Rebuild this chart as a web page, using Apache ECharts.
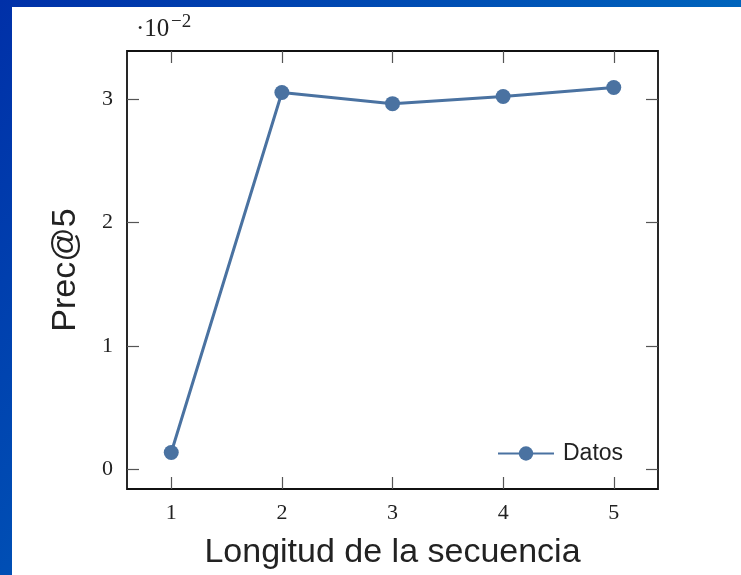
<!DOCTYPE html>
<html>
<head>
<meta charset="utf-8">
<script src="https://cdn.jsdelivr.net/npm/echarts@6/dist/echarts.min.js"></script>
<style>
html,body{margin:0;padding:0;}
#chart{width:741px;height:575px;}
</style>
</head>
<body>
<div id="chart"></div>
<script>
// Data
var seqLengths = [1, 2, 3, 4, 5];
var precValues = [0.139, 3.051, 2.961, 3.019, 3.092];
var xTicks = [1, 2, 3, 4, 5];
var yTicks = [0, 1, 2, 3];
var seriesName = 'Datos';
var xName = 'Longitud de la secuencia';
var yName = 'Prec@5';
var scaleBase = '·10';
var scaleExp = '−2';

var lineColor = '#4a72a1';
var tickFont = 'Liberation Serif';
var sansFont = 'Liberation Sans';

var chart = echarts.init(document.getElementById('chart'));

var pairs = seqLengths.map(function (x, i) { return [x, precValues[i]]; });

function tickStyle(vals) {
  return { show: true, inside: true, length: 12, customValues: vals, lineStyle: { color: '#555', width: 1.2 } };
}
var noLine = { show: false, onZero: false };

var option = {
  animation: false,
  backgroundColor: {
    type: 'linear', x: 0, y: 0, x2: 1, y2: 1,
    colorStops: [
      { offset: 0, color: '#0030a8' },
      { offset: 0.5, color: '#0058b8' },
      { offset: 1, color: '#0088c8' }
    ]
  },
  graphic: [
    { type: 'rect', z: -10, shape: { x: 12, y: 7, width: 729, height: 568 }, style: { fill: '#ffffff' } },
    { type: 'text', left: 136, top: 17, style: { text: scaleBase, font: '25px "Liberation Serif"', fill: '#222' } },
    { type: 'text', left: 171, top: 13, style: { text: scaleExp, font: '19px "Liberation Serif"', fill: '#222' } }
  ],
  grid: {
    left: 127, right: 83, top: 51, bottom: 83,
    show: true, borderColor: '#111', borderWidth: 1.8, backgroundColor: 'transparent',
    containLabel: false
  },
  legend: {
    data: [seriesName],
    left: 492, top: 437,
    itemWidth: 56, itemHeight: 18,
    textStyle: { fontFamily: sansFont, fontSize: 23, color: '#222', padding: [0, 0, 0, 4] },
    itemGap: 8
  },
  xAxis: [
    {
      type: 'value', min: 0.6, max: 5.4,
      position: 'bottom',
      axisLine: noLine,
      axisTick: tickStyle(xTicks),
      axisLabel: { customValues: xTicks, fontFamily: tickFont, fontSize: 22, color: '#222', margin: 13 },
      splitLine: { show: false },
      name: xName, nameLocation: 'middle', nameGap: 47,
      nameTextStyle: { fontFamily: sansFont, fontSize: 34, color: '#222' }
    },
    {
      type: 'value', min: 0.6, max: 5.4,
      position: 'top',
      axisLine: noLine,
      axisTick: tickStyle(xTicks),
      axisLabel: { show: false },
      splitLine: { show: false }
    }
  ],
  yAxis: [
    {
      type: 'value', min: -0.156, max: 3.387,
      position: 'left',
      axisLine: noLine,
      axisTick: tickStyle(yTicks),
      axisLabel: { customValues: yTicks, fontFamily: tickFont, fontSize: 22, color: '#222', margin: 14 },
      splitLine: { show: false },
      name: yName, nameLocation: 'middle', nameGap: 44, nameRotate: 90,
      nameTextStyle: { fontFamily: sansFont, fontSize: 34, color: '#222' }
    },
    {
      type: 'value', min: -0.156, max: 3.387,
      position: 'right',
      axisLine: noLine,
      axisTick: tickStyle(yTicks),
      axisLabel: { show: false },
      splitLine: { show: false }
    }
  ],
  series: [
    {
      name: seriesName,
      type: 'line',
      xAxisIndex: 0, yAxisIndex: 0,
      data: pairs,
      symbol: 'circle',
      symbolSize: 15,
      lineStyle: { color: lineColor, width: 3 },
      itemStyle: { color: lineColor }
    }
  ]
};
chart.setOption(option);
</script>
</body>
</html>
